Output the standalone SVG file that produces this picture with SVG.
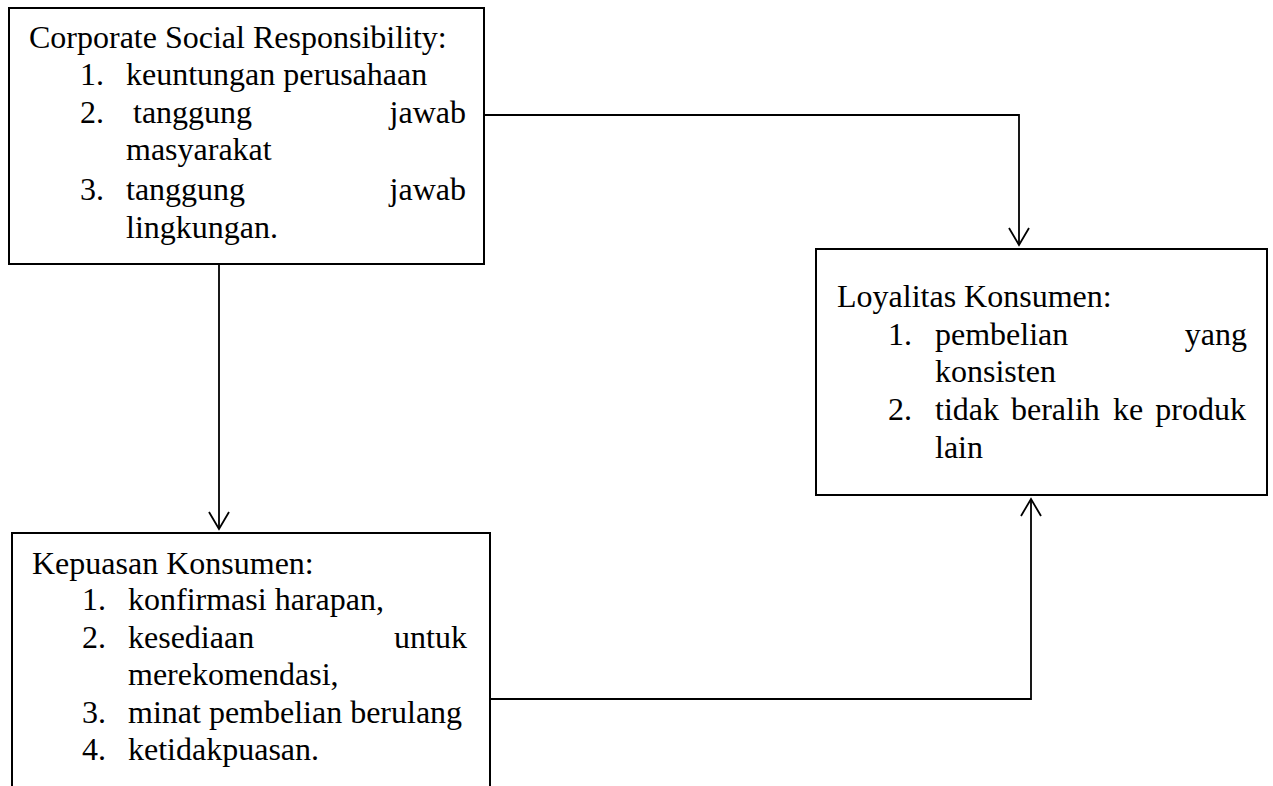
<svg xmlns="http://www.w3.org/2000/svg" width="1273" height="786" viewBox="0 0 1273 786">
  <defs>
    <marker id="arrow" markerUnits="userSpaceOnUse" markerWidth="40" markerHeight="40" refX="0" refY="0" orient="auto" overflow="visible">
      <path d="M-17,-10 L0,0 L-17,10" fill="none" stroke="#000" stroke-width="1.8"/>
    </marker>
    <style>
      .box { fill: #fff; stroke: #000; stroke-width: 2; }
      .conn { fill: none; stroke: #000; stroke-width: 1.8; marker-end: url(#arrow); }
      text { font-family: "Liberation Serif", "Times New Roman", serif; font-size: 32px; fill: #000; }
      .end { text-anchor: end; }
    </style>
  </defs>
  <rect width="1273" height="786" fill="#fff"/>

  <g id="connectors">
    <path class="conn" d="M484,115 H1019 V245"/>
    <path class="conn" d="M219,264 V529"/>
    <path class="conn" d="M490,699 H1031 V499"/>
  </g>

  <g id="csr">
    <rect class="box" x="9" y="8" width="475" height="256"/>
    <text x="29" y="48">Corporate Social Responsibility:</text>
    <text x="80" y="85">1.</text>
    <text x="126" y="85">keuntungan perusahaan</text>
    <text x="80" y="123">2.</text>
    <text x="133" y="123">tanggung</text>
    <text class="end" x="466" y="123">jawab</text>
    <text x="126" y="160">masyarakat</text>
    <text x="80" y="200">3.</text>
    <text x="126" y="200">tanggung</text>
    <text class="end" x="466" y="200">jawab</text>
    <text x="126" y="238">lingkungan.</text>
  </g>

  <g id="kepuasan">
    <rect class="box" x="12" y="533" width="478" height="280"/>
    <text x="32" y="574">Kepuasan Konsumen:</text>
    <text x="82" y="610">1.</text>
    <text x="128" y="610">konfirmasi harapan,</text>
    <text x="82" y="648">2.</text>
    <text x="128" y="648">kesediaan</text>
    <text class="end" x="467" y="648">untuk</text>
    <text x="128" y="685">merekomendasi,</text>
    <text x="82" y="723">3.</text>
    <text x="128" y="723">minat pembelian berulang</text>
    <text x="82" y="760">4.</text>
    <text x="128" y="760">ketidakpuasan.</text>
  </g>

  <g id="loyalitas">
    <rect class="box" x="816" y="249" width="451" height="246"/>
    <text x="837" y="307">Loyalitas Konsumen:</text>
    <text x="888" y="345">1.</text>
    <text x="935" y="345">pembelian</text>
    <text class="end" x="1247" y="345">yang</text>
    <text x="935" y="382">konsisten</text>
    <text x="888" y="420">2.</text>
    <text x="935" y="420">tidak</text>
    <text x="1011" y="420">beralih</text>
    <text x="1113" y="420">ke</text>
    <text class="end" x="1246" y="420">produk</text>
    <text x="935" y="458">lain</text>
  </g>
</svg>
